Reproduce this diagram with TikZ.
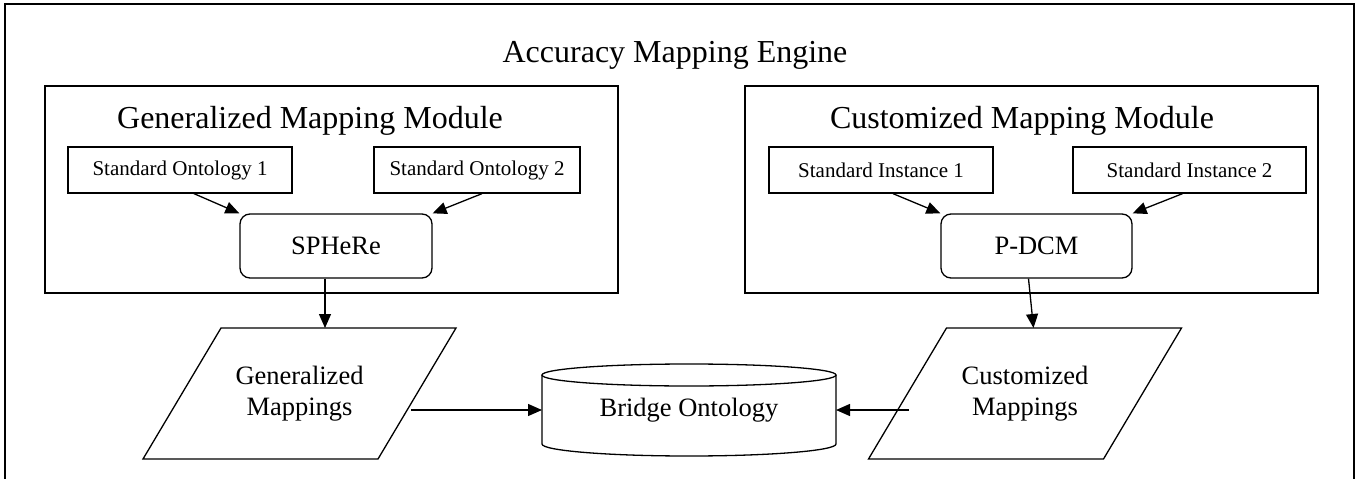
\documentclass[tikz,border=0pt]{standalone}
\usepackage{fontspec}
\setmainfont{Liberation Serif}
\usetikzlibrary{arrows.meta}
\begin{document}
\begin{tikzpicture}[x=1pt,y=-1pt,line width=1.3pt,
    modbox/.style={draw,minimum width=573pt,minimum height=207pt,inner sep=0pt},
    stdbox/.style={draw,minimum height=46pt,inner sep=0pt,font=\fontsize{21}{25}\selectfont},
    algbox/.style={draw,rounded corners=10pt,minimum height=64pt,inner sep=0pt,font=\fontsize{26.5}{31}\selectfont},
    mapbox/.style={minimum width=313pt,minimum height=131pt,inner sep=0pt,outer sep=0pt,
        align=center,font=\fontsize{26.5}{31}\selectfont},
    arr/.style={-{Triangle[length=14pt,width=12pt]}}]
    \useasboundingbox (0,0) rectangle (1363,479);
    % engine frame, open at the bottom
    \draw[line width=1.6pt] (5,479) |- (1354,4) -- (1354,479);
    \node[anchor=base,font=\fontsize{32}{38}\selectfont] (engine) at (675,62) {Accuracy Mapping Engine};
    % the two modules
    \node[modbox] (gmod) at (331.5,189.5) {};
    \node[modbox] (cmod) at (1031.5,189.5) {};
    \node[anchor=base,font=\fontsize{32}{38}\selectfont] (gmtitle) at (310,128) {Generalized Mapping Module};
    \node[anchor=base,font=\fontsize{32}{38}\selectfont] (cmtitle) at (1022,128) {Customized Mapping Module};
    \node[stdbox,minimum width=224pt] (onto1) at (180,170)    {Standard Ontology 1};
    \node[stdbox,minimum width=206pt] (onto2) at (477,170)    {Standard Ontology 2};
    \node[stdbox,minimum width=224pt] (inst1) at (881,170)    {Standard Instance 1};
    \node[stdbox,minimum width=233pt] (inst2) at (1189.5,170) {Standard Instance 2};
    \node[algbox,minimum width=192pt] (sphere) at (336,246)    {SPHeRe};
    \node[algbox,minimum width=191pt] (pdcm)   at (1036.5,246) {P-DCM};
    % outputs and the bridge store
    \node[mapbox] (genmap) at (299.5,393.5) {Generalized\\Mappings};
    \node[mapbox] (cusmap) at (1025,393.5)  {Customized\\Mappings};
    \draw (genmap.south west) -- ([xshift=78pt]genmap.north west) -- (genmap.north east)
          -- ([xshift=-78pt]genmap.south east) -- cycle;
    \draw (cusmap.south west) -- ([xshift=78pt]cusmap.north west) -- (cusmap.north east)
          -- ([xshift=-78pt]cusmap.south east) -- cycle;
    \node[minimum width=294pt,minimum height=92pt,inner sep=0pt,outer sep=0pt,
          font=\fontsize{26.5}{31}\selectfont] (bridge) at (689,410) {Bridge Ontology};
    \draw (689,375) ellipse [x radius=147pt,y radius=11pt];
    \draw (542,375) -- (542,444) arc[start angle=180,end angle=360,x radius=147pt,y radius=12pt] -- (836,375);
    % connectors
    \draw[arr] ([xshift=14pt]onto1.south) -- (sphere.north west);
    \draw[arr] ([xshift=5pt]onto2.south)  -- (sphere.north east);
    \draw[arr] ([xshift=12pt]inst1.south) -- (pdcm.north west);
    \draw[arr] ([xshift=-7pt]inst2.south) -- (pdcm.north east);
    \draw[arr] ([xshift=-11pt]sphere.south) -- ([xshift=-11pt]sphere.south |- genmap.north);
    \draw[arr] ([xshift=-8pt]pdcm.south) -- ([xshift=-3pt]pdcm.south |- cusmap.north);
    \draw[arr] ([xshift=-45pt]bridge.west -| genmap.east) -- (bridge.west);
    \draw[arr] ([xshift=40pt]bridge.east -| cusmap.west) -- (bridge.east);
\end{tikzpicture}
\end{document}
